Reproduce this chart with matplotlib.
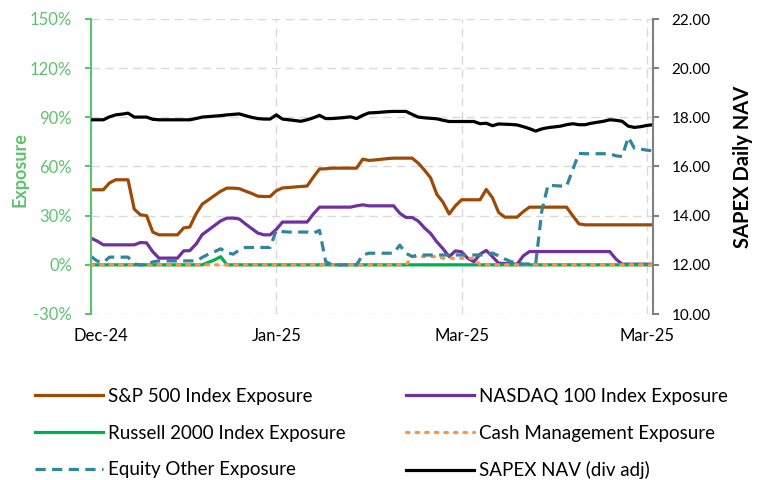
import matplotlib
matplotlib.use("Agg")
import matplotlib.pyplot as plt
from matplotlib.ticker import FuncFormatter, MultipleLocator
from matplotlib.transforms import ScaledTranslation

plt.rcParams["font.family"] = ["Lato", "DejaVu Sans"]

# tick labels shown on the category axis (every 30th point)
TICK_POS = [0, 30, 60, 90]
TICK_LABELS = ["Dec-24", "Jan-25", "Mar-25", "Mar-25"]

# exposures in %, one value per observation
SP500 = [45.8, 45.8, 45.8, 50.0, 51.9, 51.9, 51.9, 34.0, 30.5, 30.0,
         20.0, 18.3, 18.3, 18.3, 18.3, 22.5, 23.1, 31.0, 37.0, 39.6,
         42.3, 44.9, 46.8, 46.8, 46.5, 45.0, 43.6, 41.9, 41.7, 41.7,
         45.2, 46.9, 47.2, 47.5, 47.8, 48.1, 53.5, 58.5, 58.6, 59.0,
         59.0, 59.0, 59.0, 59.0, 64.5, 63.7, 64.0, 64.4, 64.8, 65.1,
         65.1, 65.1, 65.1, 62.0, 57.8, 53.0, 43.0, 38.2, 31.0, 36.0,
         39.7, 39.7, 39.7, 39.7, 46.0, 41.0, 32.0, 29.1, 29.1, 29.1,
         32.5, 35.2, 35.2, 35.2, 35.2, 35.2, 35.2, 35.2, 30.0, 25.0,
         24.4, 24.4, 24.4, 24.4, 24.4, 24.4, 24.4, 24.4, 24.4, 24.4,
         24.4, 24.4]
NASDAQ = [16.3, 14.5, 12.2, 12.2, 12.2, 12.2, 12.2, 12.2, 13.6, 13.4,
          8.0, 4.1, 4.1, 4.1, 4.1, 8.5, 8.7, 12.6, 18.4, 21.2,
          24.0, 26.8, 28.5, 28.5, 28.0, 25.0, 22.2, 19.4, 18.3, 18.3,
          21.6, 26.1, 26.1, 26.1, 26.1, 26.1, 31.0, 35.2, 35.2, 35.2,
          35.2, 35.2, 35.2, 36.0, 36.6, 36.0, 36.0, 36.0, 36.0, 36.0,
          31.5, 28.9, 28.9, 26.7, 22.5, 19.1, 14.0, 9.8, 5.0, 8.5,
          8.0, 4.0, 1.9, 6.5, 8.8, 5.0, 1.0, 0.8, 0.6, 0.4,
          5.5, 8.1, 8.1, 8.1, 8.1, 8.1, 8.1, 8.1, 8.1, 8.1,
          8.1, 8.1, 8.1, 8.1, 8.1, 3.5, 0.4, 0.4, 0.4, 0.4,
          0.4, 0.4]
RUSSELL = [0.0] * 19 + [1.5, 3.0, 5.0] + [0.0] * 70
CASH = [0.0] * 52 + [5.0, 5.0, 5.0, 5.0, 5.0, 4.0, 4.0, 4.0, 4.0, 4.0,
                     4.0] + [0.0] * 29
EQUITY_OTHER = [5.1, 2.3, 1.5, 4.7, 4.7, 4.7, 4.7, 0.5, 0.0, 0.0,
                1.8, 2.4, 2.4, 2.4, 2.4, 2.4, 2.4, 2.4, 4.5, 6.5,
                8.0, 9.8, 7.5, 6.5, 9.0, 10.6, 10.6, 10.6, 10.6, 10.6,
                21.0, 20.3, 20.0, 20.0, 20.0, 20.0, 19.3, 21.0, 2.0, 0.0,
                0.0, 0.0, 0.0, 0.0, 6.0, 7.1, 7.1, 7.1, 7.1, 7.1,
                12.0, 7.0, 5.1, 6.0, 6.0, 6.0, 6.0, 6.0, 6.0, 6.0,
                6.0, 6.0, 6.0, 6.0, 6.0, 7.2, 5.5, 3.5, 2.0, 1.0,
                0.5, 0.5, 0.6, 33.0, 48.6, 48.3, 48.1, 47.9, 58.0, 68.0,
                67.8, 67.8, 67.8, 67.8, 67.8, 66.5, 66.1, 77.8, 71.1, 70.6,
                70.0, 69.5]
# SAPEX daily NAV (dividend adjusted), right axis
NAV = [17.90, 17.90, 17.90, 18.02, 18.10, 18.13, 18.17, 18.01, 18.01, 18.01,
       17.92, 17.90, 17.90, 17.90, 17.90, 17.90, 17.90, 17.95, 18.01, 18.03,
       18.05, 18.07, 18.10, 18.12, 18.14, 18.07, 18.00, 17.95, 17.93, 17.93,
       18.10, 17.93, 17.90, 17.87, 17.84, 17.90, 17.98, 18.08, 17.95, 17.95,
       17.97, 17.99, 18.02, 17.95, 18.08, 18.18, 18.19, 18.21, 18.23, 18.24,
       18.24, 18.24, 18.12, 18.01, 17.98, 17.96, 17.94, 17.88, 17.83, 17.83,
       17.83, 17.83, 17.83, 17.74, 17.76, 17.66, 17.73, 17.72, 17.71, 17.69,
       17.62, 17.54, 17.44, 17.53, 17.58, 17.61, 17.64, 17.70, 17.74, 17.70,
       17.70, 17.76, 17.80, 17.84, 17.90, 17.88, 17.84, 17.64, 17.59, 17.62,
       17.67, 17.70]

GREEN_TXT = "#5DC26E"
GRID = "#D9D9D9"

fig = plt.figure(figsize=(7.62, 4.8), dpi=100)
ax = fig.add_axes([91 / 762, 1 - 314 / 480, 562 / 762, 295 / 480])
ax2 = ax.twinx()

x = list(range(len(NAV)))
lw = 2.3
h_sp, = ax.plot(x, SP500, color="#9C4A06", lw=lw, label="S&P 500 Index Exposure")
h_nd, = ax.plot(x, NASDAQ, color="#7030A0", lw=lw, label="NASDAQ 100 Index Exposure")
h_ru, = ax.plot(x, RUSSELL, color="#00B050", lw=lw, label="Russell 2000 Index Exposure")
h_ca, = ax.plot(x, CASH, color="#F79646", lw=lw, linestyle=(0, (0.8, 2.2)),
                dash_capstyle="round", label="Cash Management Exposure")
h_eq, = ax.plot(x, EQUITY_OTHER, color="#31859C", lw=lw, linestyle=(0, (3.2, 2.0)),
                label="Equity Other Exposure")
h_nav, = ax2.plot(x, NAV, color="black", lw=2.3, label="SAPEX NAV (div adj)")

ax.set_xlim(0, len(NAV) - 1)
ax.set_ylim(-30, 150)
ax.yaxis.set_major_locator(MultipleLocator(30))
ax.yaxis.set_major_formatter(FuncFormatter(lambda v, p: f"{v:.0f}%"))
ax2.set_ylim(10, 22)
ax2.yaxis.set_major_locator(MultipleLocator(2))
ax2.yaxis.set_major_formatter(FuncFormatter(lambda v, p: f"{v:.2f}"))

ax.set_xticks(TICK_POS)
ax.set_xticklabels(TICK_LABELS)
ax.grid(True, color=GRID, linestyle=(0, (6, 4)), lw=1.0)
ax.set_axisbelow(True)

for a in (ax, ax2):
    a.spines["top"].set_visible(False)
    a.spines["bottom"].set_visible(False)
ax.spines["right"].set_visible(False)
ax.spines["left"].set_color(GREEN_TXT)
ax.spines["left"].set_linewidth(1.5)
ax2.spines["left"].set_visible(False)
ax2.spines["right"].set_color("#808080")
ax2.spines["right"].set_linewidth(1.5)

ax.tick_params(axis="x", length=0, pad=10, labelsize=12, colors="black")
ax.tick_params(axis="y", length=4.5, width=1.5, color=GREEN_TXT, labelcolor=GREEN_TXT,
               labelsize=12, pad=9)
ax2.tick_params(axis="y", length=4.5, width=1.5, color="#808080", labelcolor="black",
                labelsize=11, pad=9)
# first date label sits a little right of the axis, as in the source chart
first = ax.get_xticklabels()[0]
first.set_transform(first.get_transform() + ScaledTranslation(10 / 100, 0, fig.dpi_scale_trans))

ax.set_ylabel("Exposure", color=GREEN_TXT, fontsize=13, fontweight="bold")
ax.yaxis.set_label_coords(-0.112, 0.49)
ax2.set_ylabel("SAPEX Daily NAV", color="black", fontsize=14.5, fontweight="bold")
ax2.yaxis.set_label_coords(1.142, 0.5)

leg_kw = dict(loc="upper left", frameon=False, borderpad=0, borderaxespad=0,
              fontsize=13.5, handlelength=3.6, handletextpad=0.3, labelspacing=1.05)
fig.legend([h_sp, h_ru, h_eq], [h.get_label() for h in (h_sp, h_ru, h_eq)],
           bbox_to_anchor=(35 / 762, 1 - 388 / 480), **leg_kw)
fig.legend([h_nd, h_ca, h_nav], [h.get_label() for h in (h_nd, h_ca, h_nav)],
           bbox_to_anchor=(406 / 762, 1 - 388 / 480), **leg_kw)

fig.savefig("out.png", dpi=100, facecolor="white")
